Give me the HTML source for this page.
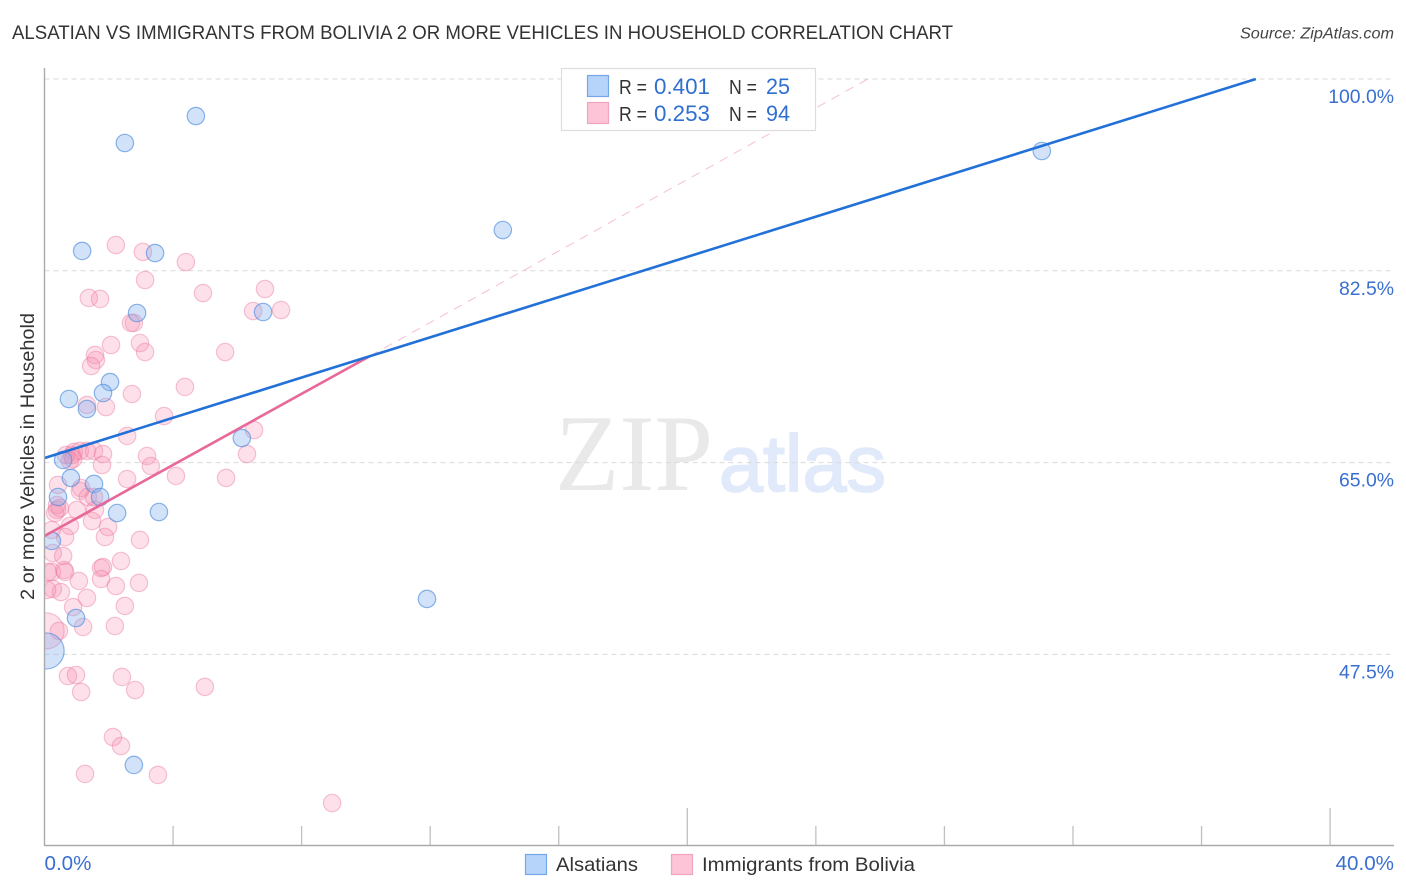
<!DOCTYPE html>
<html lang="en">
<head>
<meta charset="utf-8">
<title>Alsatian vs Immigrants from Bolivia correlation chart</title>
<style>
html,body{margin:0;padding:0;background:#fff;}
svg{display:block;font-family:"Liberation Sans",sans-serif;}
</style>
</head>
<body>
<svg id="chart" width="1406" height="892" viewBox="0 0 1406 892" xmlns="http://www.w3.org/2000/svg">
  <defs><clipPath id="plot-clip"><rect x="45" y="68" width="1350" height="777"/></clipPath></defs>
  <rect width="1406" height="892" fill="#fff"/>
  <text x="12" y="39" font-size="19.5" fill="#333" textLength="941" lengthAdjust="spacingAndGlyphs">ALSATIAN VS IMMIGRANTS FROM BOLIVIA 2 OR MORE VEHICLES IN HOUSEHOLD CORRELATION CHART</text>
  <text x="1394" y="38.5" font-size="16" font-style="italic" fill="#444" text-anchor="end" textLength="154" lengthAdjust="spacingAndGlyphs">Source: ZipAtlas.com</text>
  <g id="watermark">
    <text x="555" y="490" font-family="'Liberation Serif',serif" font-size="109" fill="#e9e9e9" textLength="158" lengthAdjust="spacingAndGlyphs">ZIP</text>
    <text x="719" y="491" font-size="80" fill="#e1eafa" stroke="#e1eafa" stroke-width="1.8" textLength="167" lengthAdjust="spacingAndGlyphs">atlas</text>
  </g>
  <g id="grid"></g>
  <g id="marks" clip-path="url(#plot-clip)"></g>
  <rect x="30" y="600" width="14.5" height="80" fill="#fff"/>
  <g id="axes"></g>
  <g id="legend-top">
    <rect x="561.5" y="68.5" width="254" height="62" fill="#fff" fill-opacity="0.9" stroke="#ddd" stroke-width="1.2"/>
    <rect x="587.5" y="75.5" width="21" height="21" fill="#b6d3f9" stroke="#74a6e8" stroke-width="1.2"/>
    <text y="94" font-size="20.5" fill="#333"><tspan x="619" textLength="28" lengthAdjust="spacingAndGlyphs">R =</tspan><tspan x="654" fill="#2f6fd0" textLength="56" lengthAdjust="spacingAndGlyphs" font-size="22">0.401</tspan><tspan x="729" textLength="28" lengthAdjust="spacingAndGlyphs">N =</tspan><tspan x="766" fill="#2f6fd0" textLength="24" lengthAdjust="spacingAndGlyphs" font-size="22">25</tspan></text>
    <rect x="587.5" y="102.5" width="21" height="21" fill="#fdc4d7" stroke="#f3a4bd" stroke-width="1.2"/>
    <text y="121" font-size="20.5" fill="#333"><tspan x="619" textLength="28" lengthAdjust="spacingAndGlyphs">R =</tspan><tspan x="654" fill="#2f6fd0" textLength="56" lengthAdjust="spacingAndGlyphs" font-size="22">0.253</tspan><tspan x="729" textLength="28" lengthAdjust="spacingAndGlyphs">N =</tspan><tspan x="766" fill="#2f6fd0" textLength="24" lengthAdjust="spacingAndGlyphs" font-size="22">94</tspan></text>
  </g>
  <text transform="translate(34,456.5) rotate(-90)" font-size="19" fill="#333" text-anchor="middle" textLength="287" lengthAdjust="spacingAndGlyphs">2 or more Vehicles in Household</text>
  <g id="legend-bottom">
    <rect x="525.5" y="854.5" width="21" height="20" fill="#b6d3f9" stroke="#74a6e8" stroke-width="1.2"/>
    <text x="556" y="871" font-size="19.5" fill="#333" textLength="82" lengthAdjust="spacingAndGlyphs">Alsatians</text>
    <rect x="671.5" y="854.5" width="21" height="20" fill="#fdc4d7" stroke="#f3a4bd" stroke-width="1.2"/>
    <text x="702" y="871" font-size="19.5" fill="#333" textLength="213" lengthAdjust="spacingAndGlyphs">Immigrants from Bolivia</text>
  </g>
</svg>
<script>
const yTickValues = [100, 82.5, 65, 47.5];
const yTickLabels = ["100.0%", "82.5%", "65.0%", "47.5%"];
const xTickValues = [0, 4, 8, 12, 16, 20, 24, 28, 32, 36, 40];
const xEndLabels = ["0.0%", "40.0%"];

const alsatianX = [4.71,2.50,31.03,14.26,1.17,3.44,2.88,6.80,2.04,1.82,0.76,1.32,6.14,0.58,0.82,1.54,0.42,1.73,2.26,3.56,0.23,11.90,0.98,0.05,2.78];
const alsatianY = [96.62,94.16,93.43,86.22,84.31,84.12,78.65,78.74,72.35,71.35,70.80,69.89,67.24,65.24,63.60,63.05,61.86,61.86,60.40,60.49,57.85,52.56,50.82,47.81,37.41];
const alsatianWeight = [1,1,1,1,1,1,1,1,1,1,1,1,1,1,1,1,1,1,1,1,1,1,1,4.3,1];

const boliviaX = [2.22,3.06,4.40,3.13,4.93,6.86,1.38,1.73,6.49,7.36,2.78,2.69,2.07,2.97,3.13,5.62,1.57,1.60,1.45,2.72,4.37,1.91,1.32,3.72,6.52,2.57,0.67,0.92,0.86,1.10,1.32,1.54,1.82,1.79,0.89,0.79,3.19,3.31,2.57,4.09,5.65,6.30,0.42,1.10,1.14,1.35,0.39,0.39,0.33,1.01,1.57,1.48,0.79,0.23,0.64,1.98,1.88,2.97,0.26,0.58,0.23,0.61,0.64,1.07,1.76,1.82,1.76,2.38,2.22,2.94,0.26,0.51,1.32,0.89,2.50,2.19,1.20,0.45,0.05,0.73,0.98,2.41,2.82,1.14,4.99,2.13,2.38,1.26,3.53,8.95,0.11,0.08,0.48,1.54];
const boliviaY = [84.85,84.22,83.30,81.66,80.47,80.84,80.02,79.93,78.83,78.92,77.74,77.74,75.73,75.91,75.09,75.09,74.82,74.36,73.81,71.26,71.90,70.07,70.26,69.25,67.97,67.43,65.69,65.97,65.69,66.06,66.06,66.06,65.78,64.78,65.33,65.15,65.60,64.69,63.50,63.78,63.60,65.78,62.96,62.41,62.68,61.86,61.13,60.68,60.40,60.68,60.68,59.67,59.22,58.85,58.21,59.12,58.21,57.94,56.75,56.48,55.02,55.20,55.02,54.20,55.38,55.47,54.38,56.02,53.74,54.02,53.47,53.19,52.65,51.82,51.92,50.09,50.00,49.64,49.64,45.53,45.62,45.44,44.25,44.07,44.53,39.96,39.14,36.59,36.50,33.94,55.02,53.38,60.86,61.86];
const boliviaWeight = [1,1,1,1,1,1,1,1,1,1,1,1,1,1,1,1,1,1,1,1,1,1,1,1,1,1,1,1,1,1,1,1,1,1,1,1,1,1,1,1,1,1,1,1,1,1,1,1,1,1,1,1,1,1,1,1,1,1,1,1,1,1,1,1,1,1,1,1,1,1,1,1,1,1,1,1,1,1,4.3,1,1,1,1,1,1,1,1,1,1,1,1,1,1,1];

const alsatianTrendX = [0, 37.69];
const alsatianTrendY = [65.42, 100];
const boliviaTrendX = [0, 10.13];
const boliviaTrendY = [58.30, 74.73];
const boliviaExtendX = [10.13, 25.62];
const boliviaExtendY = [74.73, 100];

const NS = "http://www.w3.org/2000/svg";
function xScale(v) { return 44.5 + v * 32.14; }
function yScale(v) { return 79 + (100 - v) * 10.96; }
function rScale(w) { return 8.7 * Math.sqrt(w); }
function make(tag, parent, attrs) {
  const el = document.createElementNS(NS, tag);
  for (const k in attrs) el.setAttribute(k, attrs[k]);
  parent.appendChild(el);
  return el;
}
const gridG = document.getElementById("grid");
const axesG = document.getElementById("axes");
const marksG = document.getElementById("marks");

yTickValues.forEach(function (v, i) {
  const line = make("line", gridG, {x1: 44.5, x2: 1394, y1: yScale(v), y2: yScale(v), stroke: "#dadada", "stroke-width": 1, "stroke-dasharray": "5 4"});
  
  
  const label = make("text", axesG, {x: 1394, y: yScale(v) + 24, "text-anchor": "end", "font-size": 19.4, fill: "#3a6fd0"});
  label.textContent = yTickLabels[i];
  
  
});

const yAxisLine = make("line", axesG, {x1: 44.5, x2: 44.5, y1: 68, y2: 845.5, stroke: "#aaa", "stroke-width": 1.4});


const xAxisLine = make("line", axesG, {x1: 44, x2: 1394, y1: 845.5, y2: 845.5, stroke: "#aaa", "stroke-width": 1.4});



xTickValues.forEach(function (v, i) {
  if (i === 0) return;
  const tall = v === 20 || v === 40;
  const tick = make("line", axesG, {x1: xScale(v), x2: xScale(v), y1: tall ? 808 : 826, y2: 845, stroke: "#c0c0c0", "stroke-width": 1.3});
  
  
});

const x0Label = make("text", axesG, {x: 44.5, y: 870, "font-size": 20.6, fill: "#3a6fd0"});
x0Label.textContent = xEndLabels[0];


const x1Label = make("text", axesG, {x: 1394, y: 870, "font-size": 20.6, fill: "#3a6fd0", "text-anchor": "end"});
x1Label.textContent = xEndLabels[1];



boliviaX.forEach(function (v, i) {
  const dot = make("circle", marksG, {cx: xScale(v), cy: yScale(boliviaY[i]), r: rScale(boliviaWeight[i]), fill: "#f78fb0", "fill-opacity": 0.28, stroke: "#ec7da2", "stroke-opacity": 0.45, "stroke-width": 1.2});
  
  
});
alsatianX.forEach(function (v, i) {
  const dot = make("circle", marksG, {cx: xScale(v), cy: yScale(alsatianY[i]), r: rScale(alsatianWeight[i]), fill: "#7fb0ee", "fill-opacity": 0.36, stroke: "#4f8ede", "stroke-opacity": 0.65, "stroke-width": 1.2});
  
  
});

const extendLine = make("line", marksG, {x1: xScale(boliviaExtendX[0]), y1: yScale(boliviaExtendY[0]), x2: xScale(boliviaExtendX[1]), y2: yScale(boliviaExtendY[1]), stroke: "#e8729e", "stroke-opacity": 0.45, "stroke-width": 1, "stroke-dasharray": "9 7"});


const boliviaLine = make("line", marksG, {x1: xScale(boliviaTrendX[0]), y1: yScale(boliviaTrendY[0]), x2: xScale(boliviaTrendX[1]), y2: yScale(boliviaTrendY[1]), stroke: "#e8689a", "stroke-width": 2.6});


const alsatianLine = make("line", marksG, {x1: xScale(alsatianTrendX[0]), y1: yScale(alsatianTrendY[0]), x2: xScale(alsatianTrendX[1]), y2: yScale(alsatianTrendY[1]), stroke: "#2271d8", "stroke-width": 2.6});


</script>
</body>
</html>
